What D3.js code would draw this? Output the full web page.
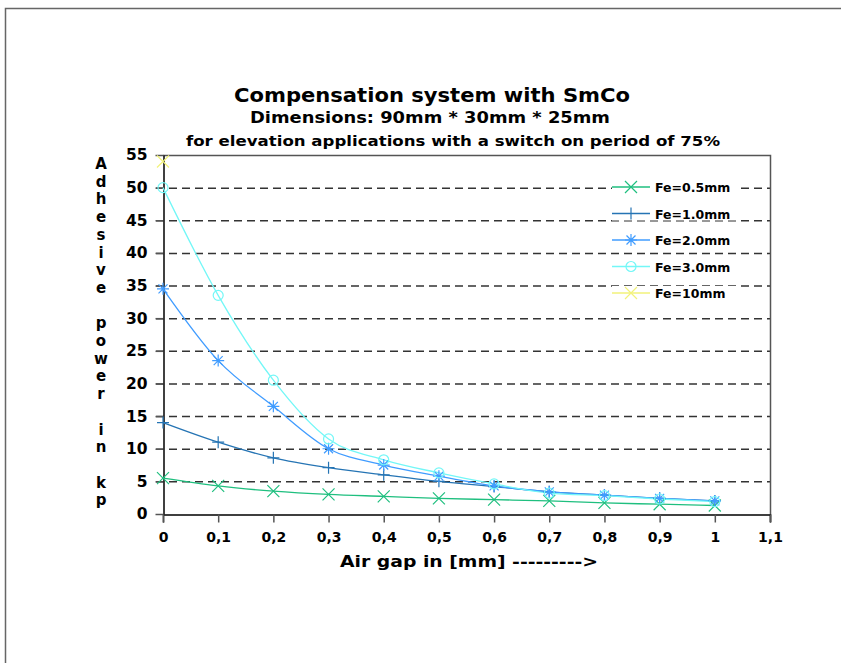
<!DOCTYPE html>
<html>
<head>
<meta charset="utf-8">
<script src="https://cdn.jsdelivr.net/npm/d3@7"></script>
<style>
  body { margin: 0; background: #fff; }
  text { font-family: "DejaVu Sans", Verdana, sans-serif; font-weight: bold; fill: #000; }
</style>
</head>
<body>
<div id="container"></div>
<script>
/* CONSTANTS AND GLOBALS */
const width = 841;
const height = 663;
const margin = { top: 155, left: 163, right: 70, bottom: 149 };

/* DATA */
const airGap = [0, 0.1, 0.2, 0.3, 0.4, 0.5, 0.6, 0.7, 0.8, 0.9, 1.0];
const fe05 = [5.5, 4.3, 3.5, 3.0, 2.7, 2.4, 2.2, 2.0, 1.7, 1.5, 1.3];
const fe10 = [14.0, 11.0, 8.6, 7.1, 6.0, 5.0, 4.2, 3.4, 2.9, 2.4, 2.0];
const fe20 = [34.5, 23.5, 16.5, 10.0, 7.5, 5.8, 4.3, 3.4, 2.9, 2.4, 2.0];
const fe30 = [50.0, 33.5, 20.5, 11.5, 8.3, 6.3, 4.6, 3.2, 2.8, 2.3, 1.9];
const fe100 = [54.0];
const seriesNames = ["Fe=0.5mm", "Fe=1.0mm", "Fe=2.0mm", "Fe=3.0mm", "Fe=10mm"];
const xTicks = [0, 0.1, 0.2, 0.3, 0.4, 0.5, 0.6, 0.7, 0.8, 0.9, 1.0, 1.1];
const xTickLabels = ["0", "0,1", "0,2", "0,3", "0,4", "0,5", "0,6", "0,7", "0,8", "0,9", "1", "1,1"];
const yTicks = [0, 5, 10, 15, 20, 25, 30, 35, 40, 45, 50, 55];
const yLabel = "Adhesive power in kp";

const series = [
  { name: seriesNames[0], values: fe05, color: "#1fbf7f", marker: "x", line: true },
  { name: seriesNames[1], values: fe10, color: "#2574b4", marker: "plus", line: true },
  { name: seriesNames[2], values: fe20, color: "#409cff", marker: "star", line: true },
  { name: seriesNames[3], values: fe30, color: "#73f7f7", marker: "circle", line: true },
  { name: seriesNames[4], values: fe100, color: "#f2f27a", marker: "x", line: false },
];

/* SCALES */
const xScale = d3.scaleLinear().domain([0, 1.1]).range([margin.left, width - margin.right - 1]);
const yScale = d3.scaleLinear().domain([0, 55]).range([height - margin.bottom, margin.top]);

const svg = d3.select("#container").append("svg")
  .attr("width", width).attr("height", height);

// outer frame
svg.append("path")
  .attr("d", `M5.5,${height}V8.5H${width}`)
  .attr("fill", "none").attr("stroke", "#666").attr("stroke-width", 1.5);

// TITLES
svg.append("text").attr("x", 234).attr("y", 102).style("font-size", "19px")
  .attr("textLength", 396).attr("lengthAdjust", "spacingAndGlyphs")
  .text("Compensation system with SmCo");
svg.append("text").attr("x", 250).attr("y", 123).style("font-size", "15px")
  .attr("textLength", 360).attr("lengthAdjust", "spacingAndGlyphs")
  .text("Dimensions: 90mm * 30mm * 25mm");
svg.append("text").attr("x", 186).attr("y", 146).style("font-size", "13.5px")
  .attr("textLength", 534).attr("lengthAdjust", "spacingAndGlyphs")
  .text("for elevation applications with a switch on period of 75%");

// GRIDLINES
svg.selectAll(".grid").data(yTicks.filter((d) => d > 0 && d < 55)).join("line")
  .attr("class", "grid")
  .attr("x1", margin.left - 7).attr("x2", xScale(1.1))
  .attr("y1", (d) => yScale(d) + 0.5).attr("y2", (d) => yScale(d) + 0.5)
  .attr("stroke", "#333").attr("stroke-width", 1.5).attr("stroke-dasharray", "8,5");

// plot frame top / right
svg.append("path")
  .attr("d", `M${margin.left},${yScale(55) + 0.5}H${xScale(1.1) + 0.5}V${yScale(0) + 8}`)
  .attr("fill", "none").attr("stroke", "#555").attr("stroke-width", 1.5);

// AXES
const xAxis = svg.append("g")
  .attr("transform", `translate(0,${yScale(0) + 0.5})`)
  .call(d3.axisBottom(xScale).tickValues(xTicks).tickFormat((d, i) => xTickLabels[i]).tickSize(8).tickPadding(10));
xAxis.select(".domain").attr("stroke", "#000").attr("stroke-width", 1.5);
xAxis.selectAll(".tick line").attr("stroke", "#555").attr("stroke-width", 1.5);
xAxis.selectAll("text").style("font-size", "14px").attr("font-family", null);

const yAxis = svg.append("g")
  .attr("transform", `translate(${margin.left + 0.5},0)`)
  .call(d3.axisLeft(yScale).tickValues(yTicks).tickSize(8).tickPadding(8).tickSizeOuter(0));
yAxis.select(".domain").attr("stroke", "#000").attr("stroke-width", 1.5);
yAxis.selectAll(".tick line").attr("stroke", "#555").attr("stroke-width", 1.5);
yAxis.selectAll("text").style("font-size", "15.5px").attr("font-family", null);

// AXIS LABELS
svg.append("text").attr("x", 340).attr("y", 567).style("font-size", "16px")
  .attr("textLength", 258).attr("lengthAdjust", "spacingAndGlyphs")
  .text("Air gap in [mm] --------->");

// vertical stacked letters, one per line
svg.append("g").selectAll("text").data(yLabel.split("")).join("text")
  .attr("x", 101).attr("y", (_, i) => 169 + i * 17.7)
  .attr("text-anchor", "middle").style("font-size", "15px")
  .text((d) => d);

// LINES
const line = d3.line()
  .x((d, i) => xScale(airGap[i]))
  .y((d) => yScale(d))
  .curve(d3.curveMonotoneX);

svg.selectAll(".series-line").data(series.filter((s) => s.line)).join("path")
  .attr("class", "series-line")
  .attr("d", (s) => line(s.values))
  .attr("fill", "none").attr("stroke", (s) => s.color).attr("stroke-width", 1.3);

// MARKERS
function drawMarker(g, type, color, s) {
  const p = g.append("path").attr("fill", "none").attr("stroke", color).attr("stroke-width", 1.2);
  if (type === "x") p.attr("d", `M${-s},${-s}L${s},${s}M${-s},${s}L${s},${-s}`);
  if (type === "plus") p.attr("d", `M${-s},0H${s}M0,${-s}V${s}`);
  if (type === "star") p.attr("d", `M${-s},0H${s}M0,${-s}V${s}M${-s * 0.75},${-s * 0.75}L${s * 0.75},${s * 0.75}M${-s * 0.75},${s * 0.75}L${s * 0.75},${-s * 0.75}`);
  if (type === "circle") g.select("path").attr("d", d3.arc()({ innerRadius: 0, outerRadius: s, startAngle: 0, endAngle: 2 * Math.PI }));
}

series.forEach((s) => {
  s.values.forEach((v, i) => {
    const g = svg.append("g").attr("transform", `translate(${xScale(airGap[i])},${yScale(v)})`);
    drawMarker(g, s.marker, s.color, s.marker === "circle" ? 5 : 6);
  });
});

// LEGEND
const legend = svg.append("g");
series.forEach((s, i) => {
  const y = 187 + i * 26.5;
  legend.append("rect").attr("x", 612).attr("y", y - 7).attr("width", 125).attr("height", 14).attr("fill", "#fff");
  legend.append("line").attr("x1", 612).attr("x2", 650).attr("y1", y).attr("y2", y)
    .attr("stroke", s.color).attr("stroke-width", 1.3);
  const g = legend.append("g").attr("transform", `translate(631,${y})`);
  drawMarker(g, s.marker, s.color, s.marker === "circle" ? 5 : 6);
  legend.append("text").attr("x", 655).attr("y", y + 5).style("font-size", "12.5px").text(s.name);
});
</script>
</body>
</html>
